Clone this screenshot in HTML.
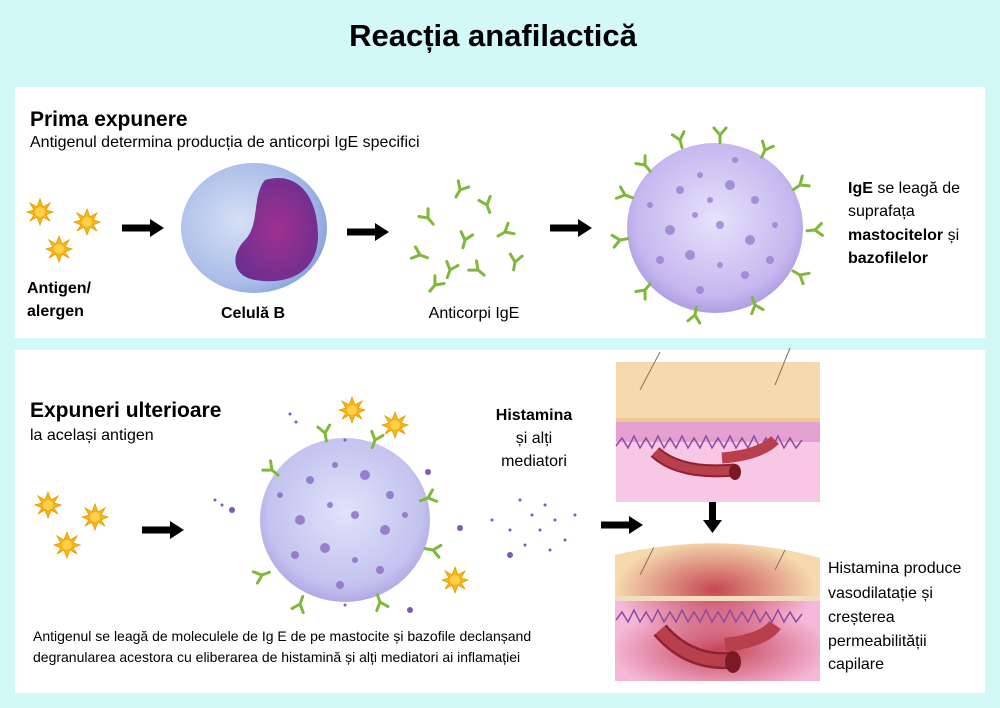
<!DOCTYPE html>
<html><head><meta charset="utf-8"><style>
body{margin:0;width:1000px;height:708px;background:#d2f8f8;overflow:hidden;font-family:"Liberation Sans",sans-serif}
svg{position:absolute;left:0;top:0}
</style></head><body>
<svg width="1000" height="708" viewBox="0 0 1000 708" font-family="Liberation Sans, sans-serif">
<defs>
<radialGradient id="cellB" cx="0.4" cy="0.45" r="0.6"><stop offset="0" stop-color="#d6e0f5"/><stop offset="0.8" stop-color="#a9bde8"/><stop offset="1" stop-color="#8ea6dd"/></radialGradient>
<radialGradient id="nuc" cx="0.5" cy="0.5" r="0.6"><stop offset="0" stop-color="#a0308f"/><stop offset="1" stop-color="#6a2f8f"/></radialGradient>
<radialGradient id="mast" cx="0.5" cy="0.45" r="0.6"><stop offset="0" stop-color="#e6e2fb"/><stop offset="0.75" stop-color="#c5b8ef"/><stop offset="1" stop-color="#a68fdc"/></radialGradient>
<radialGradient id="mast2" cx="0.5" cy="0.45" r="0.6"><stop offset="0" stop-color="#dfe3fa"/><stop offset="0.75" stop-color="#c3c3ef"/><stop offset="1" stop-color="#a99bdf"/></radialGradient>
<radialGradient id="red" cx="0.5" cy="0.5" r="0.5"><stop offset="0" stop-color="#c0374a" stop-opacity="0.9"/><stop offset="1" stop-color="#c0374a" stop-opacity="0"/></radialGradient>
<clipPath id="sk2"><path d="M615,555 Q720,530 820,558 L820,681 L615,681Z"/></clipPath>
<g id="star"><polygon points="0,-13 3,-5 10,-9 6,-2 13,0 6,3 10,9 3,5 0,13 -3,5 -10,9 -6,3 -13,0 -6,-2 -10,-9 -3,-5" fill="#f7b514" stroke="#e89a00" stroke-width="0.8"/><circle r="5" fill="#fbd04a"/></g>
<g id="y"><path d="M0,8 L0,0 L-6,-7 M0,0 L6,-7" stroke="#7fb83a" stroke-width="3" fill="none" stroke-linecap="round"/></g>
<g id="arr"><rect x="0" y="-3.5" width="30" height="7" fill="#000"/><polygon points="28,-9 42,0 28,9" fill="#000"/></g>
</defs>
<text x="493" y="46" text-anchor="middle" font-size="31" font-weight="bold">Reacția anafilactică</text>
<rect x="15" y="87" width="970" height="251" fill="#fff"/>
<rect x="15" y="350" width="970" height="343" fill="#fff"/>
<text x="30" y="126" font-size="21" font-weight="bold">Prima expunere</text>
<text x="30" y="147" font-size="16">Antigenul determina producția de anticorpi IgE specifici</text>
<use href="#star" x="40" y="212"/><use href="#star" x="87" y="222"/><use href="#star" x="59" y="249"/>
<text x="27" y="293" font-size="16" font-weight="bold">Antigen/</text>
<text x="27" y="316" font-size="16" font-weight="bold">alergen</text>
<use href="#arr" x="122" y="228"/>
<ellipse cx="254" cy="228" rx="73" ry="65" fill="url(#cellB)"/>
<path d="M265,180 C300,170 318,200 318,235 C318,275 285,285 255,280 C232,276 230,255 245,240 C260,225 252,195 265,180Z" fill="url(#nuc)"/>
<text x="253" y="318" text-anchor="middle" font-size="16" font-weight="bold">Celulă B</text>
<use href="#arr" x="347" y="232"/>
<g><use href="#y" x="460" y="190" transform="rotate(30 460 190)"/><use href="#y" x="487" y="205" transform="rotate(-20 487 205)"/><use href="#y" x="428" y="218" transform="rotate(-40 428 218)"/><use href="#y" x="465" y="240" transform="rotate(15 465 240)"/><use href="#y" x="505" y="232" transform="rotate(60 505 232)"/><use href="#y" x="420" y="255" transform="rotate(-70 420 255)"/><use href="#y" x="450" y="270" transform="rotate(20 450 270)"/><use href="#y" x="478" y="270" transform="rotate(-50 478 270)"/><use href="#y" x="515" y="262" transform="rotate(10 515 262)"/><use href="#y" x="435" y="285" transform="rotate(40 435 285)"/></g>
<text x="474" y="318" text-anchor="middle" font-size="16">Anticorpi IgE</text>
<use href="#arr" x="550" y="228"/>
<ellipse cx="715" cy="228" rx="88" ry="85" fill="url(#mast)"/>
<g fill="#9a7fcf" opacity="0.8"><circle cx="680" cy="190" r="4"/><circle cx="700" cy="175" r="3"/><circle cx="730" cy="185" r="5"/><circle cx="755" cy="200" r="4"/><circle cx="670" cy="230" r="5"/><circle cx="695" cy="215" r="3"/><circle cx="720" cy="225" r="4"/><circle cx="750" cy="240" r="5"/><circle cx="775" cy="225" r="3"/><circle cx="660" cy="260" r="4"/><circle cx="690" cy="255" r="5"/><circle cx="720" cy="265" r="3"/><circle cx="745" cy="275" r="4"/><circle cx="700" cy="290" r="4"/><circle cx="770" cy="260" r="4"/><circle cx="650" cy="205" r="3"/><circle cx="735" cy="160" r="3"/><circle cx="710" cy="200" r="3"/></g>
<g><use href="#y" x="645" y="165" transform="rotate(-40 645 165)"/><use href="#y" x="680" y="140" transform="rotate(-15 680 140)"/><use href="#y" x="720" y="135"/><use href="#y" x="765" y="150" transform="rotate(25 765 150)"/><use href="#y" x="800" y="185" transform="rotate(55 800 185)"/><use href="#y" x="815" y="230" transform="rotate(85 815 230)"/><use href="#y" x="800" y="275" transform="rotate(120 800 275)"/><use href="#y" x="755" y="305" transform="rotate(160 755 305)"/><use href="#y" x="695" y="315" transform="rotate(190 695 315)"/><use href="#y" x="645" y="290" transform="rotate(220 645 290)"/><use href="#y" x="620" y="240" transform="rotate(260 620 240)"/><use href="#y" x="625" y="195" transform="rotate(-70 625 195)"/></g>
<text font-size="16"><tspan x="848" y="193" font-weight="bold">IgE</tspan><tspan> se leagă de</tspan><tspan x="848" y="216">suprafața</tspan><tspan x="848" y="240" font-weight="bold">mastocitelor</tspan><tspan> și</tspan><tspan x="848" y="263" font-weight="bold">bazofilelor</tspan></text>

<text x="30" y="417" font-size="21" font-weight="bold">Expuneri ulterioare</text>
<text x="30" y="440" font-size="16">la același antigen</text>
<use href="#star" x="48" y="505"/><use href="#star" x="95" y="517"/><use href="#star" x="67" y="545"/>
<use href="#arr" x="142" y="530"/>
<ellipse cx="345" cy="520" rx="85" ry="82" fill="url(#mast2)"/>
<g fill="#8f70c6" opacity="0.85"><circle cx="310" cy="480" r="4"/><circle cx="335" cy="465" r="3"/><circle cx="365" cy="475" r="5"/><circle cx="390" cy="495" r="4"/><circle cx="300" cy="520" r="5"/><circle cx="330" cy="505" r="3"/><circle cx="355" cy="515" r="4"/><circle cx="385" cy="530" r="5"/><circle cx="405" cy="515" r="3"/><circle cx="295" cy="555" r="4"/><circle cx="325" cy="548" r="5"/><circle cx="355" cy="560" r="3"/><circle cx="380" cy="570" r="4"/><circle cx="340" cy="585" r="4"/><circle cx="280" cy="495" r="3"/></g>
<g><use href="#y" x="325" y="433" transform="rotate(-10 325 433)"/><use href="#y" x="375" y="440" transform="rotate(20 375 440)"/><use href="#y" x="272" y="470" transform="rotate(-50 272 470)"/><use href="#y" x="428" y="498" transform="rotate(70 428 498)"/><use href="#y" x="433" y="550" transform="rotate(100 433 550)"/><use href="#y" x="262" y="575" transform="rotate(-110 262 575)"/><use href="#y" x="300" y="604" transform="rotate(200 300 604)"/><use href="#y" x="380" y="602" transform="rotate(160 380 602)"/></g>
<use href="#star" x="352" y="410"/><use href="#star" x="395" y="425"/><use href="#star" x="455" y="580"/>
<g fill="#7e5bb4"><circle cx="290" cy="414" r="1.5"/><circle cx="296" cy="422" r="1.5"/><circle cx="215" cy="500" r="1.5"/><circle cx="222" cy="505" r="1.5"/><circle cx="232" cy="510" r="3"/><circle cx="428" cy="472" r="3"/><circle cx="460" cy="528" r="3"/><circle cx="492" cy="520" r="1.5"/><circle cx="510" cy="530" r="1.5"/><circle cx="520" cy="500" r="1.5"/><circle cx="532" cy="515" r="1.5"/><circle cx="545" cy="505" r="1.5"/><circle cx="540" cy="530" r="1.5"/><circle cx="555" cy="520" r="1.5"/><circle cx="565" cy="540" r="1.5"/><circle cx="525" cy="545" r="1.5"/><circle cx="510" cy="555" r="3"/><circle cx="550" cy="550" r="1.5"/><circle cx="575" cy="515" r="1.5"/><circle cx="345" cy="440" r="1.5"/><circle cx="410" cy="610" r="3"/><circle cx="345" cy="605" r="1.5"/></g>
<text font-size="16" text-anchor="middle"><tspan x="534" y="420" font-weight="bold">Histamina</tspan><tspan x="534" y="443">și alți</tspan><tspan x="534" y="466">mediatori</tspan></text>
<text font-size="14"><tspan x="33" y="641">Antigenul se leagă de moleculele de Ig E de pe mastocite și bazofile declanșand</tspan><tspan x="33" y="662">degranularea acestora cu eliberarea de histamină și alți mediatori ai inflamației</tspan></text>
<use href="#arr" x="601" y="525"/>
<!-- skin 1 -->
<rect x="616" y="362" width="204" height="60" fill="#f6d9ad"/>
<rect x="616" y="418" width="204" height="4" fill="#ecc797"/>
<rect x="616" y="422" width="204" height="80" fill="#f9c7e6"/>
<rect x="616" y="422" width="204" height="20" fill="#e4a0d0"/>
<path d="M616,446 l6,-8 6,10 6,-12 6,12 6,-10 6,10 6,-12 6,12 6,-10 6,10 6,-12 6,12 6,-10 6,10 6,-12 6,12 6,-10 6,10 6,-12 6,12 6,-10 6,10 6,-12 6,12 6,-10 6,10 6,-12 6,12 6,-10 6,10 6,-8" stroke="#8d4aa0" stroke-width="1.5" fill="none"/>
<path d="M655,452 Q680,475 735,470" stroke="#8e2230" stroke-width="13" fill="none"/>
<path d="M655,452 Q680,475 735,470" stroke="#b8404c" stroke-width="9" fill="none"/>
<path d="M722,458 Q760,455 775,440" stroke="#b8404c" stroke-width="11" fill="none"/>
<ellipse cx="735" cy="472" rx="6" ry="8" fill="#7a1a25"/>
<path d="M640,390 L660,352 M775,385 L790,348" stroke="#8a7060" stroke-width="1"/>
<rect x="709" y="502" width="7" height="22" fill="#000"/><polygon points="703,520 722,520 712.5,533" fill="#000"/>
<!-- skin 2 -->
<g clip-path="url(#sk2)">
<rect x="615" y="530" width="205" height="70" fill="#f6d9ad"/>
<rect x="615" y="600" width="205" height="81" fill="#f5b8d8"/>
<ellipse cx="715" cy="590" rx="100" ry="50" fill="url(#red)"/>
<ellipse cx="720" cy="650" rx="110" ry="45" fill="url(#red)"/>
<rect x="615" y="596" width="205" height="5" fill="#f3dcc0"/>
<path d="M616,620 l6,-8 6,10 6,-12 6,12 6,-10 6,10 6,-12 6,12 6,-10 6,10 6,-12 6,12 6,-10 6,10 6,-12 6,12 6,-10 6,10 6,-12 6,12 6,-10 6,10 6,-12 6,12 6,-10 6,10 6,-12 6,12 6,-10 6,10 6,-8" stroke="#8d4aa0" stroke-width="1.5" fill="none"/>
<path d="M660,630 Q690,665 735,660" stroke="#8e2230" stroke-width="17" fill="none"/>
<path d="M660,630 Q690,665 735,660" stroke="#b8404c" stroke-width="12" fill="none"/>
<path d="M725,645 Q765,640 775,625" stroke="#b8404c" stroke-width="14" fill="none"/>
<ellipse cx="733" cy="662" rx="8" ry="11" fill="#7a1a25"/>
<path d="M640,575 L655,545 M775,570 L790,540" stroke="#8a7060" stroke-width="1"/>
</g>
<text font-size="16"><tspan x="828" y="573">Histamina produce</tspan><tspan x="828" y="598">vasodilatație și</tspan><tspan x="828" y="622">creșterea</tspan><tspan x="828" y="646">permeabilității</tspan><tspan x="828" y="669">capilare</tspan></text>
</svg>
</body></html>
